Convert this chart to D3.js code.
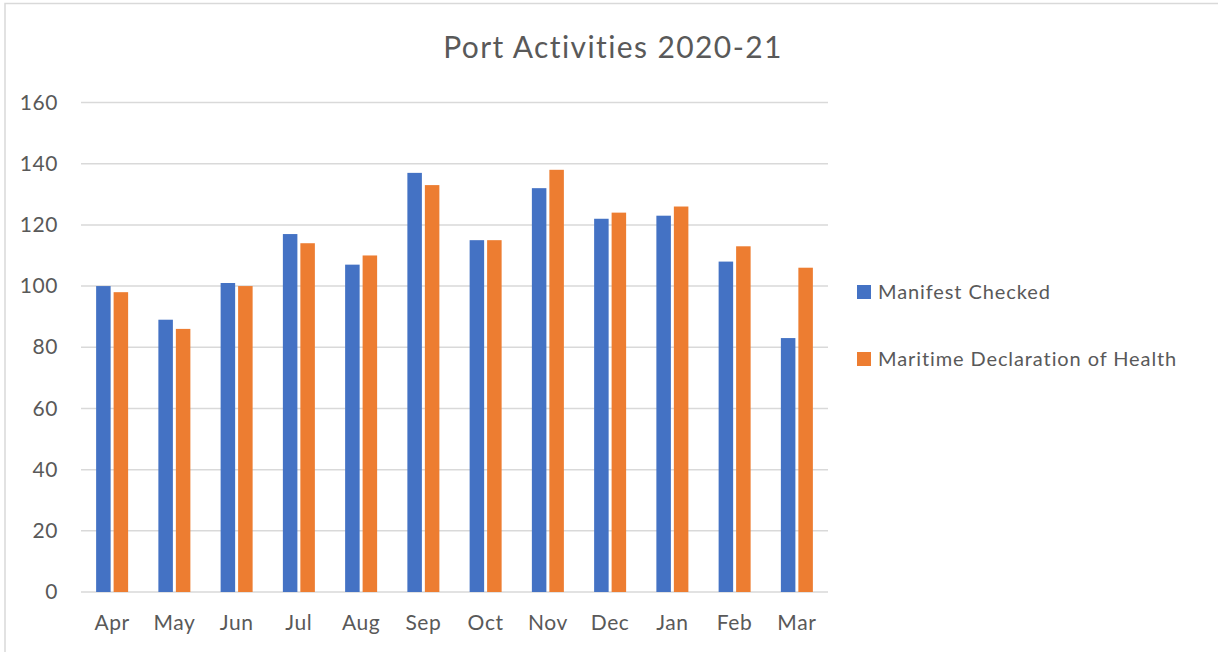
<!DOCTYPE html>
<html>
<head>
<meta charset="utf-8">
<script src="https://cdn.jsdelivr.net/npm/d3@7"></script>
<style>
    body { margin: 0; background: #fff; }
    text { font-family: Lato, "Open Sans", sans-serif; fill: #595959; }
</style>
</head>
<body>
<div id="chart"></div>
<script>
// chart data
const months = ['Apr', 'May', 'Jun', 'Jul', 'Aug', 'Sep', 'Oct', 'Nov', 'Dec', 'Jan', 'Feb', 'Mar'];
const seriesNames = ['Manifest Checked', 'Maritime Declaration of Health'];
const manifestChecked = [100, 89, 101, 117, 107, 137, 115, 132, 122, 123, 108, 83];
const declarationOfHealth = [98, 86, 100, 114, 110, 133, 115, 138, 124, 126, 113, 106];
const yTicks = [0, 20, 40, 60, 80, 100, 120, 140, 160];
const colors = ['#4472C4', '#ED7D31'];

const width = 1218, height = 652;
const margin = {top: 102.5, left: 81, right: 390, bottom: 60};
const plotW = width - margin.left - margin.right;
const plotH = height - margin.top - margin.bottom;

const svg = d3.select('#chart').append('svg')
    .attr('width', width).attr('height', height);

// chart frame
svg.append('rect')
    .attr('x', 5).attr('y', 3.5)
    .attr('width', width + 10).attr('height', height + 10)
    .attr('fill', 'none').attr('stroke', '#d9d9d9').attr('stroke-width', 1.5);

// title
svg.append('text')
    .attr('x', 613).attr('y', 58)
    .attr('text-anchor', 'middle')
    .style('font-size', '30px')
    .style('letter-spacing', '1.4px')
    .text('Port Activities 2020-21');

const chart = svg.append('g')
    .attr('transform', `translate(${margin.left}, ${margin.top})`);

// scales
const x0 = d3.scaleBand().domain(months).range([0, plotW]).padding(0);
const cluster = 32;
const x1 = d3.scaleBand().domain(seriesNames)
    .range([x0.bandwidth() / 2 - cluster / 2, x0.bandwidth() / 2 + cluster / 2])
    .paddingInner(0.17);
const y = d3.scaleLinear().domain([0, 160]).range([plotH, 0]);

// gridlines
chart.append('g').selectAll('line').data(yTicks).enter()
    .append('line')
    .attr('x1', 0).attr('x2', plotW)
    .attr('y1', d => y(d)).attr('y2', d => y(d))
    .attr('stroke', '#d9d9d9').attr('stroke-width', 1.5);

// y axis labels
const yAxis = chart.append('g')
    .call(d3.axisLeft(y).tickValues(yTicks).tickSize(0).tickPadding(23));
yAxis.select('.domain').remove();
yAxis.selectAll('text')
    .style('font-size', '21px')
    .style('letter-spacing', '0.6px')
    .attr('fill', '#595959');

// x axis labels
const xAxis = chart.append('g')
    .attr('transform', `translate(0, ${plotH})`)
    .call(d3.axisBottom(x0).tickSize(0).tickPadding(23));
xAxis.select('.domain').remove();
xAxis.selectAll('text')
    .style('font-size', '21px')
    .style('letter-spacing', '0.6px')
    .attr('fill', '#595959');

// bars
const rows = months.map((m, i) => ({month: m, values: [manifestChecked[i], declarationOfHealth[i]]}));
const groups = chart.selectAll('.group').data(rows).enter()
    .append('g').attr('class', 'group')
    .attr('transform', d => `translate(${x0(d.month)}, 0)`);

groups.selectAll('rect')
    .data(d => d.values.map((v, i) => ({name: seriesNames[i], value: v, idx: i})))
    .enter().append('rect')
    .attr('x', d => x1(d.name))
    .attr('y', d => y(d.value))
    .attr('width', x1.bandwidth())
    .attr('height', d => y(0) - y(d.value))
    .attr('fill', d => colors[d.idx]);

// legend
const legend = svg.append('g').attr('transform', 'translate(857, 285)');
const items = legend.selectAll('g').data(seriesNames).enter()
    .append('g')
    .attr('transform', (d, i) => `translate(0, ${i * 67})`);
items.append('rect')
    .attr('width', 14).attr('height', 14)
    .attr('fill', (d, i) => colors[i]);
items.append('text')
    .attr('x', 21).attr('y', 14)
    .style('font-size', '20px')
    .style('letter-spacing', '0.9px')
    .text(d => d);
</script>
</body>
</html>
